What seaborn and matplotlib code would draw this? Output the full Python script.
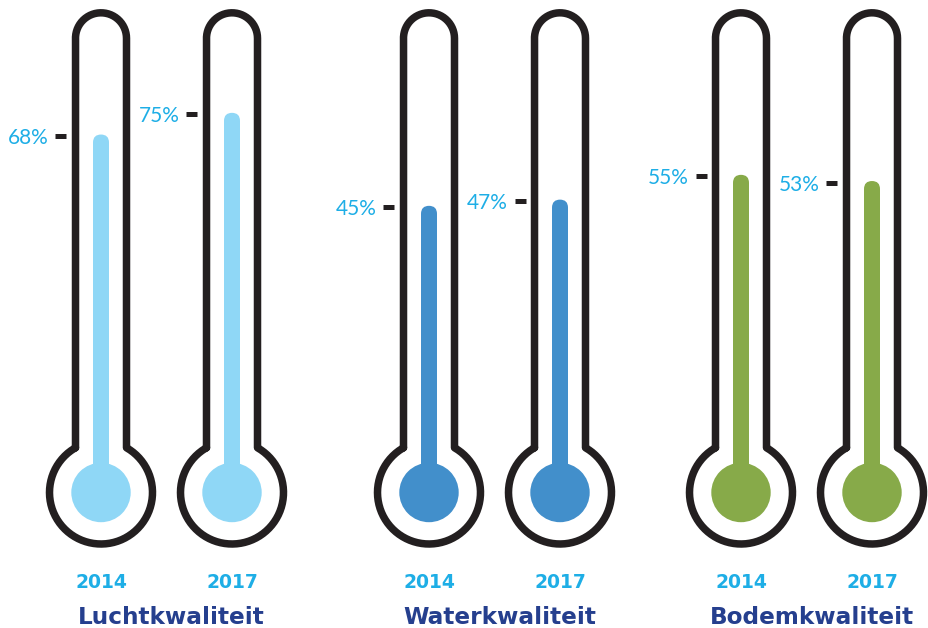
import matplotlib.pyplot as plt
import matplotlib.transforms as mtransforms
from matplotlib.patches import Circle, Rectangle, FancyBboxPatch
import numpy as np
import seaborn as sns

# gegevens
jaren = ["2014", "2017"]
themas = ["Luchtkwaliteit", "Waterkwaliteit", "Bodemkwaliteit"]
lucht = [68, 75]
water = [45, 47]
bodem = [55, 53]

# kleuren
KLEUR_LUCHT = "#8fd7f6"
KLEUR_WATER = "#428fcb"
KLEUR_BODEM = "#87aa49"
ZWART = "#231f20"
BLAUW_TEKST = "#1eaee6"
DONKERBLAUW = "#253f8e"

sns.set_theme(style="white")
plt.rcParams["font.family"] = ["DejaVu Sans"]

W, H = 929, 628
fig = plt.figure(figsize=(W / 100, H / 100), dpi=100)
fig.patch.set_facecolor("white")

# achtergrond-as in pixels voor de thermometer-omtrek
achter = fig.add_axes([0, 0, 1, 1])
achter.set_xlim(0, W)
achter.set_ylim(H, 0)
achter.axis("off")

midden = [101, 429, 741]  # x van de eerste thermometer in elke groep
stap = 131
BOL_Y = 492.5
Y_MIN, Y_MAX = -91.2, 111.4


def teken_thermometer(cx, kleur):
    hb, top_y, R = 25.5, 38.3, 51.5
    t = np.linspace(np.pi, 0, 60)
    boven_x = cx + hb * np.cos(t)
    boven_y = top_y - hb * np.sin(t)
    t0 = np.arccos(hb / R)
    yj = BOL_Y - R * np.sin(t0)
    tb = np.linspace(t0, -np.pi - t0, 200)
    onder_x = cx + R * np.cos(tb)
    onder_y = BOL_Y - R * np.sin(tb)
    xs = np.concatenate([[cx - hb], boven_x, [cx + hb], onder_x])
    ys = np.concatenate([[yj], boven_y, [yj], onder_y])
    achter.plot(xs, ys, color=ZWART, lw=7.5 * 0.72,
                solid_joinstyle="round", solid_capstyle="round")
    # bol en steel onderin
    achter.add_patch(Circle((cx, BOL_Y), 29.7, facecolor=kleur, lw=0))
    achter.add_patch(Rectangle((cx - 8, 325), 16, BOL_Y - 325, facecolor=kleur, lw=0))


groepen = [(lucht, KLEUR_LUCHT), (water, KLEUR_WATER), (bodem, KLEUR_BODEM)]

for g, (waarden, kleur) in enumerate(groepen):
    for k in range(len(jaren)):
        teken_thermometer(midden[g] + k * stap, kleur)

    links = midden[g] - stap / 2
    ax = fig.add_axes([links / W, 0, 2 * stap / W, 1])
    ax.patch.set_alpha(0)

    sns.barplot(x=jaren, y=waarden, color=kleur, width=16 / stap, saturation=1,
                errorbar=None, linewidth=0, ax=ax)
    ax.set_xlim(-0.5, 1.5)
    ax.set_ylim(Y_MIN, Y_MAX)
    ax.axis("off")

    # balken met ronde bovenkant (verhouding y/x-eenheden per pixel)
    aspect = ((Y_MAX - Y_MIN) / H) / (2.0 / (2 * stap))
    for p in list(ax.patches):
        rond = FancyBboxPatch((p.get_x(), p.get_y()), p.get_width(), p.get_height(),
                              boxstyle=f"round,pad=0,rounding_size={p.get_width() / 2}",
                              mutation_aspect=aspect, facecolor=kleur, lw=0)
        p.remove()
        ax.add_patch(rond)

    streep = ax.transData + mtransforms.ScaledTranslation(-40.5 / 100, -1.5 / 100, fig.dpi_scale_trans)
    tekst = ax.transData + mtransforms.ScaledTranslation(-52 / 100, -9.5 / 100, fig.dpi_scale_trans)
    for i, v in enumerate(waarden):
        ax.plot([i], [v], marker="_", markersize=11 * 0.72, markeredgewidth=5 * 0.72,
                color=ZWART, transform=streep, clip_on=False)
        ax.text(i, v, f"{v}%", transform=tekst, ha="right", va="baseline",
                fontsize=15, family=["Lato", "DejaVu Sans"], fontweight="normal",
                color=BLAUW_TEKST, clip_on=False)

    xas = ax.get_xaxis_transform()
    for i, jaar in enumerate(jaren):
        ax.text(i, (H - 588.3) / H, jaar, transform=xas, ha="center", va="baseline",
                fontsize=13.5, fontweight="bold", color=BLAUW_TEKST)

    titel = xas + mtransforms.ScaledTranslation(5 / 100, 0, fig.dpi_scale_trans)
    ax.text(0.5, (H - 623.8) / H, themas[g], transform=titel, ha="center", va="baseline",
            fontsize=16.7, fontweight="bold", color=DONKERBLAUW)

fig.savefig("out.png", dpi=100, facecolor=fig.get_facecolor())
